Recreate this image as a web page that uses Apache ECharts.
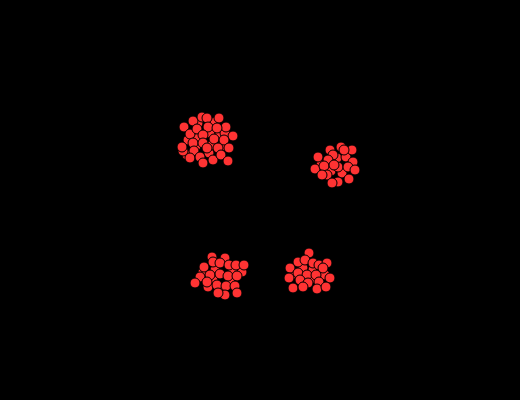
<!DOCTYPE html>
<html>
<head>
<meta charset="utf-8">
<script src="https://cdn.jsdelivr.net/npm/echarts@6/dist/echarts.min.js"></script>
<style>html,body{margin:0;padding:0;background:#000;}#main{width:520px;height:400px;}</style>
</head>
<body>
<div id="main"></div>
<script>
// Cluster point positions (x, y)
var clusterA = [[198,138],[210,133],[220,134],[188,140],[209,153],[196,146],[225,133],[215,122],[198,123],[212,145],[222,146],[187,155],[184,127],[193,121],[202,117],[207,118],[219,118],[226,127],[233,136],[190,134],[197,129],[208,127],[217,128],[214,139],[203,135],[193,143],[203,143],[224,140],[183,151],[194,151],[207,148],[218,148],[229,148],[190,158],[200,157],[213,160],[221,155],[228,161],[203,163],[182,147]];
var clusterB = [[330,150],[337,158],[346,157],[321,165],[342,173],[331,171],[341,147],[352,150],[333,155],[344,150],[318,157],[328,160],[353,162],[315,169],[324,166],[338,167],[348,167],[355,170],[327,175],[338,182],[332,183],[349,179],[322,175],[334,165]];
var clusterC = [[225,258],[215,270],[233,271],[203,272],[213,280],[230,281],[222,290],[242,272],[212,257],[204,267],[213,262],[220,263],[229,265],[236,265],[244,265],[210,275],[220,274],[228,276],[237,276],[200,277],[195,283],[208,287],[217,285],[226,286],[235,286],[225,295],[218,293],[237,293],[207,282]];
var clusterD = [[303,268],[313,270],[321,272],[294,274],[311,279],[325,275],[309,253],[298,262],[305,260],[313,263],[319,265],[327,263],[290,268],[298,273],[307,275],[316,275],[323,268],[330,278],[289,278],[300,280],[308,283],[319,282],[293,288],[303,287],[317,289],[326,287]];
var allPoints = clusterA.concat(clusterB, clusterC, clusterD);

var chart = echarts.init(document.getElementById('main'));
chart.setOption({
  backgroundColor: '#000000',
  animation: false,
  grid: {left: 0, right: 0, top: 0, bottom: 0},
  xAxis: {type: 'value', min: 0, max: 520, show: false},
  yAxis: {type: 'value', min: 0, max: 400, inverse: true, show: false},
  series: [{
    type: 'scatter',
    data: allPoints,
    symbol: 'circle',
    symbolSize: 10,
    itemStyle: {color: '#ff3333', borderColor: '#000000', borderWidth: 1, opacity: 1}
  }]
});
</script>
</body>
</html>
